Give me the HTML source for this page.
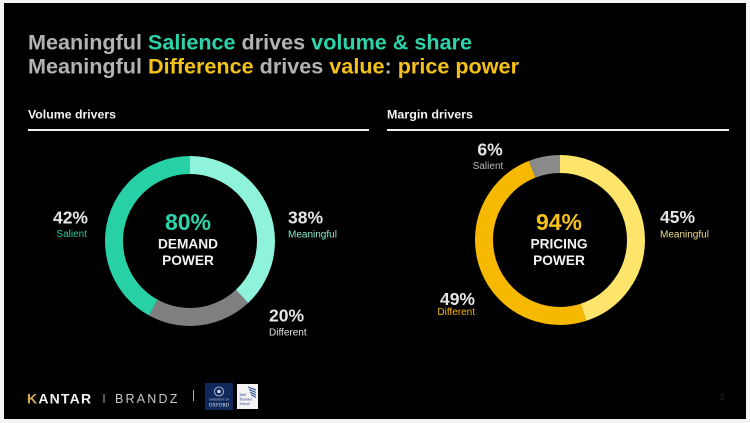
<!DOCTYPE html>
<html>
<head>
<meta charset="utf-8">
<style>
html,body{margin:0;padding:0;background:#fff;}
body{width:750px;height:423px;overflow:hidden;}
svg{display:block;font-family:"Liberation Sans",Arial,sans-serif;}
</style>
</head>
<body>
<svg width="750" height="423" viewBox="0 0 750 423" xmlns="http://www.w3.org/2000/svg">
  <rect x="0" y="0" width="750" height="423" fill="#f4f4f4"/>
  <rect x="4" y="3" width="742" height="416" fill="#000"/>

  <!-- Title -->
  <text x="28" y="49.5" font-size="21.5" font-weight="bold" fill="#b3b3b3" textLength="444" lengthAdjust="spacingAndGlyphs">Meaningful <tspan fill="#2dd3aa">Salience</tspan> drives <tspan fill="#2dd3aa">volume &amp; share</tspan></text>
  <text x="28" y="73.5" font-size="21.5" font-weight="bold" fill="#b3b3b3" textLength="491" lengthAdjust="spacingAndGlyphs">Meaningful <tspan fill="#f5c21b">Difference</tspan> drives <tspan fill="#f5c21b">value</tspan>: <tspan fill="#f5c21b">price power</tspan></text>

  <!-- Section headers -->
  <text x="28" y="118.5" font-size="12.3" font-weight="bold" fill="#f2f2f2" textLength="88" lengthAdjust="spacingAndGlyphs">Volume drivers</text>
  <rect x="28" y="129" width="341" height="2" fill="#f0f0f0"/>
  <text x="387" y="118.5" font-size="12.3" font-weight="bold" fill="#f2f2f2" textLength="86" lengthAdjust="spacingAndGlyphs">Margin drivers</text>
  <rect x="387" y="129" width="342" height="2" fill="#f0f0f0"/>

  <!-- Left donut: C = 477.52 -->
  <g transform="rotate(-90 190 241)" fill="none" stroke-width="18">
    <circle cx="190" cy="241" r="76" stroke="#8ef3da" stroke-dasharray="181.46 500" stroke-dashoffset="0"/>
    <circle cx="190" cy="241" r="76" stroke="#7f7f7f" stroke-dasharray="95.5 500" stroke-dashoffset="-181.46"/>
    <circle cx="190" cy="241" r="76" stroke="#27d0a5" stroke-dasharray="200.56 500" stroke-dashoffset="-276.96"/>
  </g>
  <text x="188" y="230" font-size="23" font-weight="bold" fill="#2dd3aa" text-anchor="middle">80%</text>
  <text x="188" y="248.5" font-size="13.7" font-weight="bold" fill="#f2f2f2" text-anchor="middle">DEMAND</text>
  <text x="188" y="265" font-size="13.7" font-weight="bold" fill="#f2f2f2" text-anchor="middle">POWER</text>

  <text x="88" y="223.5" font-size="17.5" font-weight="bold" fill="#e6e6e6" text-anchor="end">42%</text>
  <text x="87" y="237" font-size="10" fill="#27c9a0" text-anchor="end">Salient</text>
  <text x="288" y="223.5" font-size="17.5" font-weight="bold" fill="#e6e6e6">38%</text>
  <text x="288" y="237.5" font-size="10" fill="#86e8cf">Meaningful</text>
  <text x="269" y="321.5" font-size="17.5" font-weight="bold" fill="#e6e6e6">20%</text>
  <text x="269" y="335.5" font-size="10" fill="#e0e0e0">Different</text>

  <!-- Right donut -->
  <g transform="rotate(-90 560 240)" fill="none" stroke-width="18">
    <circle cx="560" cy="240" r="76" stroke="#fde56c" stroke-dasharray="214.88 500" stroke-dashoffset="0"/>
    <circle cx="560" cy="240" r="76" stroke="#f7b900" stroke-dasharray="233.98 500" stroke-dashoffset="-214.88"/>
    <circle cx="560" cy="240" r="76" stroke="#8a8a8a" stroke-dasharray="28.65 500" stroke-dashoffset="-448.86"/>
  </g>
  <text x="559" y="230" font-size="23" font-weight="bold" fill="#f5c21b" text-anchor="middle">94%</text>
  <text x="559" y="248.5" font-size="13.7" font-weight="bold" fill="#f2f2f2" text-anchor="middle">PRICING</text>
  <text x="559" y="265" font-size="13.7" font-weight="bold" fill="#f2f2f2" text-anchor="middle">POWER</text>

  <text x="490" y="155.5" font-size="17.5" font-weight="bold" fill="#e6e6e6" text-anchor="middle">6%</text>
  <text x="488" y="169" font-size="10" fill="#b8b8b8" text-anchor="middle">Salient</text>
  <text x="660" y="223" font-size="17.5" font-weight="bold" fill="#e6e6e6">45%</text>
  <text x="660" y="237.5" font-size="10" fill="#eedd8a">Meaningful</text>
  <text x="475" y="305" font-size="17.5" font-weight="bold" fill="#e6e6e6" text-anchor="end">49%</text>
  <text x="475" y="315" font-size="10" fill="#f2b400" text-anchor="end">Different</text>

  <!-- Footer -->
  <text x="27" y="403.5" font-size="14" font-weight="bold" fill="#f2f2f2" letter-spacing="1.2"><tspan fill="#d2ad55">K</tspan>ANTAR</text>
  <rect x="103.5" y="394" width="1" height="9" fill="#b0b0b0"/>
  <text x="115" y="403" font-size="12.5" fill="#c8c8c8" letter-spacing="2.2">BRANDZ</text>
  <rect x="193" y="390" width="1" height="11" fill="#b0b0b0"/>

  <!-- Oxford logo -->
  <rect x="205" y="383" width="28" height="27" fill="#10295a"/>
  <circle cx="219" cy="391.5" r="4.5" fill="none" stroke="#c9d2e4" stroke-width="0.8"/>
  <circle cx="219" cy="391.5" r="1.8" fill="#c9d2e4"/>
  <text x="219" y="400.5" font-size="2.6" fill="#c9d2e4" text-anchor="middle">UNIVERSITY OF</text>
  <text x="219" y="406.5" font-size="5" fill="#e6eaf2" text-anchor="middle" font-family="Liberation Serif, serif">OXFORD</text>

  <!-- Said logo -->
  <rect x="237" y="384" width="21" height="25" fill="#f4f4f4"/>
  <text x="239.5" y="396" font-size="3.6" fill="#1d3a78" font-family="Liberation Serif, serif">Saïd</text>
  <text x="239.5" y="400.5" font-size="3.6" fill="#1d3a78" font-family="Liberation Serif, serif">Business</text>
  <text x="239.5" y="405" font-size="3.6" fill="#1d3a78" font-family="Liberation Serif, serif">School</text>
  <g stroke="#2b4f95" stroke-width="1.1">
    <line x1="248" y1="387" x2="256" y2="390"/>
    <line x1="249" y1="389.5" x2="256" y2="392.5"/>
    <line x1="250" y1="392" x2="256" y2="395"/>
    <line x1="251" y1="394.5" x2="256" y2="397.5"/>
  </g>

  <!-- page number -->
  <text x="722" y="400" font-size="8" fill="#2e2e2e" text-anchor="middle">3</text>
</svg>
</body>
</html>
